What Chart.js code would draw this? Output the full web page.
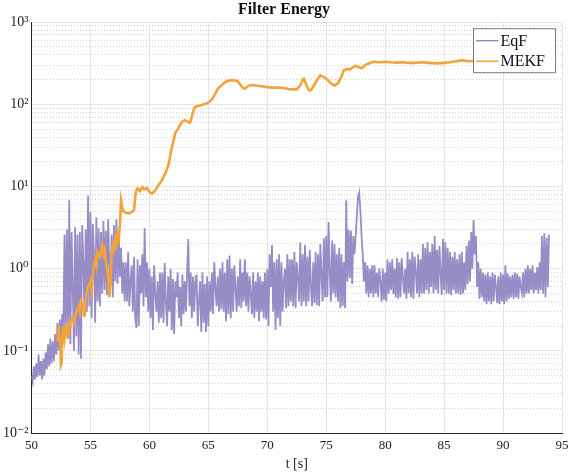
<!DOCTYPE html>
<html>
<head>
<meta charset="utf-8">
<script src="https://cdn.jsdelivr.net/npm/chart.js@4.4.1/dist/chart.umd.min.js"></script>
<style>
  html, body { margin: 0; padding: 0; background: #fff; }
  #wrap { width: 568px; height: 474px; }
</style>
</head>
<body>
<div id="wrap"><canvas id="energyChart"></canvas></div>
<script>
// EqF energy, sampled every 0.1 s starting at t = 50 s (one row per second)
const eqfStart = 50;
const eqfStep = 0.1;
const eqfValues = [
  0.05, 0.042, 0.065, 0.045, 0.07, 0.048, 0.09, 0.05, 0.075, 0.045,     // 50
  0.08, 0.05, 0.095, 0.06, 0.12, 0.065, 0.14, 0.07, 0.13, 0.075,        // 51
  0.16, 0.09, 0.22, 0.1, 0.24, 0.12, 0.28, 0.13, 2.6, 0.15,             // 52
  3.0, 0.14, 6.8, 0.12, 2.8, 0.6, 0.1, 3.2, 0.15, 2.6,                  // 53
  0.09, 2.8, 0.08, 3.4, 1.2, 0.27, 3.0, 0.3, 7.8, 0.35,                 // 54
  4.9, 0.25, 3.5, 1.5, 0.22, 4.2, 0.4, 3.1, 0.35, 2.8,                  // 55
  0.5, 3.8, 0.55, 2.9, 0.48, 4.0, 1.2, 0.6, 2.6, 0.45,                  // 56
  3.4, 0.7, 4.0, 0.65, 2.7, 0.8, 1.8, 0.5, 1.2, 0.4,                    // 57
  1.2, 0.4, 1.6, 0.35, 0.7, 1.1, 0.3, 1.4, 0.25, 0.19,                  // 58
  1.3, 0.2, 1.1, 0.5, 1.5, 0.35, 3.1, 0.45, 1.2, 0.3,                   // 59
  1.0, 0.25, 0.8, 0.18, 1.1, 0.5, 0.3, 0.7, 0.22, 0.9,                  // 60
  0.25, 0.9, 0.22, 1.17, 0.4, 0.2, 0.8, 0.3, 1.0, 0.18,                 // 61
  0.75, 0.16, 0.7, 0.45, 0.9, 0.25, 0.6, 0.2, 0.85, 0.28,               // 62
  0.7, 0.3, 0.9, 2.3, 0.35, 0.9, 0.25, 0.8, 0.3, 0.7,                   // 63
  0.85, 0.2, 0.4, 0.7, 0.17, 0.9, 0.22, 0.65, 0.17, 0.8,                // 64
  0.2, 0.7, 0.3, 0.9, 0.28, 1.2, 0.6, 0.35, 0.8, 0.3,                   // 65
  1.0, 0.32, 1.2, 0.3, 0.9, 0.23, 1.3, 0.28, 1.45, 0.25,                // 66
  1.0, 0.3, 1.1, 0.6, 0.3, 0.8, 0.35, 1.3, 0.33, 0.9,                   // 67
  0.4, 1.3, 0.35, 0.9, 0.3, 0.8, 0.5, 0.28, 0.9, 0.25,                  // 68
  0.7, 0.3, 0.9, 0.23, 0.8, 0.3, 0.7, 0.25, 0.9, 0.24,                  // 69
  1.0, 0.2, 1.5, 0.6, 1.94, 0.3, 1.2, 0.18, 1.3, 0.25,                  // 70
  1.5, 0.2, 1.2, 0.3, 0.7, 1.0, 0.33, 1.5, 0.35, 1.3,                   // 71
  0.4, 1.3, 0.35, 1.6, 0.33, 1.2, 0.8, 0.4, 2.1, 0.35,                  // 72
  1.5, 0.4, 1.94, 0.35, 1.4, 0.4, 1.7, 0.6, 0.35, 1.2,                  // 73
  0.38, 1.6, 0.36, 1.5, 0.35, 2.0, 0.8, 0.4, 2.34, 0.45,                // 74
  2.5, 0.45, 3.7, 0.9, 0.4, 2.2, 0.5, 2.0, 0.45, 1.5,                   // 75
  0.4, 1.8, 0.33, 1.5, 0.35, 1.2, 0.33, 6.8, 0.7, 3.0,                  // 76
  0.77, 2.9, 0.65, 2.5, 1.5, 2.5, 4.5, 7.5, 8.5, 5.0,                   // 77
  2.5, 1.45, 0.7, 1.2, 0.5, 1.1, 0.45, 1.0, 0.5, 1.1,                   // 78
  0.45, 1.1, 0.5, 0.9, 0.45, 1.0, 0.7, 0.4, 1.0, 0.42,                  // 79
  0.9, 0.4, 1.3, 0.5, 1.2, 0.55, 1.3, 0.49, 1.0, 0.45,                  // 80
  1.35, 0.43, 1.2, 0.45, 1.35, 0.8, 0.5, 1.0, 0.43, 1.6,                // 81
  0.5, 1.3, 0.45, 1.6, 0.43, 1.4, 0.9, 0.5, 1.5, 0.45,                  // 82
  1.3, 0.5, 2.0, 0.5, 1.8, 0.55, 2.1, 0.5, 1.6, 0.6,                    // 83
  2.0, 0.5, 2.5, 0.55, 1.7, 0.5, 1.9, 0.9, 0.48, 2.3,                   // 84
  0.55, 2.1, 0.5, 1.8, 0.5, 1.6, 0.48, 1.4, 0.55, 1.6,                  // 85
  0.5, 1.3, 0.5, 1.5, 0.48, 1.6, 0.5, 1.2, 0.55, 1.9,                   // 86
  0.65, 2.2, 0.7, 2.8, 1.0, 3.9, 1.5, 2.5, 0.6, 1.2,                    // 87
  0.43, 1.0, 0.45, 0.9, 0.4, 0.85, 0.37, 0.9, 0.4, 0.8,                 // 88
  0.37, 0.9, 0.4, 0.85, 0.6, 0.38, 0.8, 0.37, 0.9, 0.4,                 // 89
  0.85, 0.37, 1.1, 0.4, 0.87, 0.43, 0.8, 0.45, 0.85, 0.43,              // 90
  0.9, 0.45, 0.87, 0.43, 0.8, 0.6, 0.5, 0.9, 0.45, 1.0,                 // 91
  0.5, 1.1, 0.5, 1.0, 0.55, 1.1, 0.5, 0.9, 0.55, 1.05,                  // 92
  0.5, 1.2, 0.55, 2.5, 0.5, 2.7, 0.45, 2.4, 0.6, 2.6                    // 93
];

// MEKF energy
const mekfTime = [
  52.2, 52.3, 52.45, 52.5, 52.55, 52.6, 52.7, 52.8, 52.9, 53.0,
  53.1, 53.2, 53.3, 53.5, 53.6, 53.8, 54.0, 54.1, 54.2, 54.4,
  54.5, 54.6, 54.8, 55.0, 55.1, 55.2, 55.4, 55.5, 55.6, 55.8,
  56.0, 56.1, 56.2, 56.3, 56.5, 56.6, 56.7, 56.8, 56.9, 57.0,
  57.1, 57.2, 57.3, 57.4, 57.5, 57.6, 57.7, 57.8, 58.0, 58.3,
  58.5, 58.7, 58.8, 58.9, 59.0, 59.2, 59.4, 59.6, 59.8, 60.0,
  60.2, 60.4, 60.6, 60.8, 61.0, 61.2, 61.4, 61.6, 61.7, 61.8,
  61.9, 62.0, 62.2, 62.4, 62.6, 62.8, 63.0, 63.2, 63.4, 63.5,
  63.7, 63.8, 64.0, 64.3, 64.6, 65.0, 65.3, 65.6, 65.8, 66.0,
  66.3, 66.6, 67.0, 67.3, 67.5, 67.7, 67.9, 68.1, 68.4, 68.7,
  69.0, 69.5, 70.0, 70.5, 71.0, 71.5, 72.0, 72.5, 72.8, 73.0,
  73.1, 73.3, 73.5, 73.7, 73.9, 74.2, 74.5, 74.8, 75.1, 75.4,
  75.7, 76.0, 76.3, 76.5, 76.8, 77.0, 77.3, 77.5, 77.7, 78.0,
  78.3, 78.6, 79.0, 79.5, 80.0, 80.5, 81.0, 81.5, 82.0, 82.5,
  83.0, 83.5, 84.0, 84.5, 85.0, 85.5, 86.0, 86.5, 87.0, 87.6
];
const mekfValue = [
  0.13, 0.2, 0.12, 0.067, 0.07, 0.13, 0.2, 0.14, 0.18, 0.16,
  0.2, 0.17, 0.22, 0.25, 0.22, 0.3, 0.35, 0.3, 0.4, 0.33,
  0.26, 0.45, 0.6, 0.7, 0.55, 0.9, 1.3, 1.1, 1.6, 1.4,
  1.9, 1.5, 1.7, 1.2, 0.8, 0.45, 0.7, 1.5, 1.9, 1.7,
  2.3, 2.0, 2.6, 2.3, 3.5, 6.7, 5.5, 5.0, 4.8, 4.7,
  4.9, 5.2, 7.5, 9.0, 9.5, 8.8, 9.8, 9.3, 9.6, 8.6,
  8.2, 8.6, 9.5, 10.5, 11.5, 13, 15, 18, 21, 25,
  30, 34, 45, 50, 56, 62, 64, 62, 60, 63,
  80, 90, 95, 97, 100, 105, 115, 135, 155, 165,
  180, 192, 197, 195, 190, 175, 160, 155, 168, 172,
  170, 166, 162, 160, 160, 157, 152, 152, 170, 200,
  205, 175, 150, 148, 165, 195, 225, 215, 200, 180,
  170, 180, 220, 260, 270, 265, 285, 295, 285, 275,
  300, 315, 330, 325, 330, 325, 322, 325, 320, 320,
  325, 322, 318, 315, 320, 325, 335, 345, 335, 338
];

// axis ticks
const xTicks = [50, 55, 60, 65, 70, 75, 80, 85, 90, 95];
const yDecades = [-2, -1, 0, 1, 2, 3];
const yDecadeLabels = ["10⁻²", "10⁻¹", "10⁰", "10¹", "10²", "10³"];

const eqfData = eqfValues.map((v, i) => ({ x: eqfStart + i * eqfStep, y: v }));
const mekfData = mekfTime.map((t, i) => ({ x: t, y: mekfValue[i] }));

// major + minor (2..9) log ticks
const yTickValues = [];
yDecades.forEach((e, k) => {
  const base = Math.pow(10, e);
  if (k === yDecades.length - 1) { yTickValues.push(base); return; }
  for (let m = 1; m <= 9; m++) yTickValues.push(+(m * base).toPrecision(3));
});

function decadeLabel(v) {
  const e = Math.round(Math.log10(v));
  if (Math.abs(v - Math.pow(10, e)) > 1e-9 * Math.pow(10, e)) return "";
  const k = yDecades.indexOf(e);
  return k >= 0 ? yDecadeLabels[k] : "";
}

function isDecade(v) {
  return decadeLabel(v) !== "";
}

const SERIF = "'Liberation Serif', 'DejaVu Serif', serif";

// legend drawn inside the plot, top right
const boxLegend = {
  id: "boxLegend",
  afterDraw(chart) {
    const { ctx, chartArea } = chart;
    const w = 82, h = 44;
    const x = chartArea.right - 6.5 - w;
    const y = chartArea.top + 6.5;
    ctx.save();
    ctx.fillStyle = "#ffffff";
    ctx.fillRect(x, y, w, h);
    ctx.strokeStyle = "#7a7a7a";
    ctx.lineWidth = 1;
    ctx.strokeRect(x, y, w, h);
    ctx.font = "16px " + SERIF;
    ctx.textBaseline = "middle";
    chart.data.datasets.forEach((ds, i) => {
      const ly = y + 12 + i * 20.5;
      ctx.strokeStyle = ds.borderColor;
      ctx.lineWidth = 1.5;
      ctx.beginPath();
      ctx.moveTo(x + 2.5, ly);
      ctx.lineTo(x + 25, ly);
      ctx.stroke();
      ctx.fillStyle = "#111";
      ctx.fillText(ds.label, x + 27, ly + 1);
    });
    ctx.restore();
  }
};

new Chart(document.getElementById("energyChart"), {
  type: "line",
  data: {
    datasets: [
      {
        label: "EqF",
        data: eqfData,
        borderColor: "#988cc6",
        borderWidth: 1.8,
        pointRadius: 0,
        tension: 0,
        order: 1,
      },
      {
        label: "MEKF",
        data: mekfData,
        borderColor: "#f2a33a",
        borderWidth: 2.6,
        pointRadius: 0,
        tension: 0,
        order: 0,
      },
    ],
  },
  options: {
    responsive: true,
    maintainAspectRatio: false,
    animation: false,
    layout: { padding: { left: 0, right: 0, top: 0, bottom: 0 } },
    plugins: {
      legend: { display: false },
      tooltip: { enabled: false },
      title: {
        display: true,
        text: "Filter Energy",
        color: "#111",
        font: { family: SERIF, size: 16, weight: "bold", lineHeight: 1.2 },
        padding: { top: 0, bottom: 3 },
      },
    },
    scales: {
      x: {
        type: "linear",
        min: 50,
        max: 95,
        afterBuildTicks: (axis) => { axis.ticks = xTicks.map((v) => ({ value: v })); },
        afterFit: (axis) => {
          axis.height = 41;
          axis.paddingRight = 6;
        },
        ticks: {
          color: "#222",
          font: { family: SERIF, size: 13 },
          padding: 5,
          maxRotation: 0,
        },
        grid: { color: "#e4e4e4", lineWidth: 1, drawTicks: false },
        border: { display: true, color: "#262626", width: 1 },
        title: {
          display: true,
          text: "t [s]",
          color: "#222",
          font: { family: SERIF, size: 14 },
          padding: { top: 0, bottom: 1 },
        },
      },
      y: {
        type: "logarithmic",
        min: 0.01,
        max: 1000,
        afterBuildTicks: (axis) => { axis.ticks = yTickValues.map((v) => ({ value: v })); },
        afterFit: (axis) => { axis.width = 31.5; },
        ticks: {
          color: "#222",
          font: { family: SERIF, size: 14 },
          padding: 3,
          autoSkip: false,
          callback: (v) => decadeLabel(v),
        },
        grid: {
          drawTicks: false,
          lineWidth: 1,
          color: (c) => (c.tick && isDecade(c.tick.value) ? "#e4e4e4" : "#d2d2d2"),
        },
        border: {
          display: true,
          color: "#262626",
          width: 1,
          dash: (c) => (c.tick && !isDecade(c.tick.value) ? [1, 2] : []),
        },
      },
    },
  },
  plugins: [boxLegend],
});
</script>
</body>
</html>
